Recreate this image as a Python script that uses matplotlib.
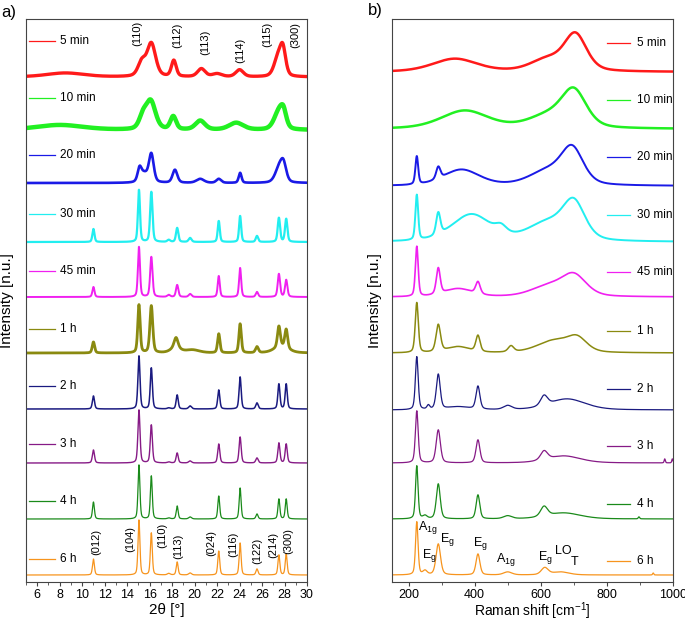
import numpy as np
import matplotlib
matplotlib.use("Agg")
import matplotlib.pyplot as plt
from matplotlib.ticker import MultipleLocator

plt.rcParams['font.family'] = ['Liberation Sans', 'DejaVu Sans']
plt.rcParams['mathtext.fontset'] = 'custom'
plt.rcParams['mathtext.rm'] = 'Liberation Sans'
plt.rcParams['mathtext.it'] = 'Liberation Sans'

# ---------------- data ----------------
series_labels = ["5 min", "10 min", "20 min", "30 min", "45 min",
                 "1 h", "2 h", "3 h", "4 h", "6 h"]
series_colors = ["#ff1a1a", "#22f022", "#1a1ae6", "#22eef0", "#f020f0",
                 "#8a8a10", "#1a1a80", "#861a86", "#1a8a1a", "#f7941d"]

# XRD peaks per series: (2theta, height, fwhm)
xrd_peaks = {
    "5 min": [(8.5, 4, 4.0), (15.3, 14, 0.8), (16.15, 33, 0.9), (18.15, 16, 0.5),
              (20.6, 8, 0.8), (22.0, 3, 1.0), (24.0, 7, 0.8), (27.4, 18, 0.8), (27.85, 26, 0.6)],
    "10 min": [(8.0, 5, 5.0), (15.4, 12, 0.8), (16.1, 28, 1.0), (18.1, 13, 0.6),
               (20.5, 9, 1.0), (23.7, 7, 1.5), (27.5, 18, 1.0), (27.9, 13, 0.6)],
    "20 min": [(15.1, 12, 0.4), (15.5, 9, 0.8), (16.15, 28, 0.5), (18.25, 13, 0.5),
               (20.5, 4, 0.8), (22.15, 4, 0.5), (24.05, 10, 0.3), (27.5, 14, 0.8), (27.9, 17, 0.6)],
    "30 min": [(11.0, 13, 0.22), (15.05, 52, 0.22), (16.15, 50, 0.25), (17.7, 2, 0.3),
               (18.45, 14, 0.25), (19.6, 4, 0.3), (22.15, 21, 0.22), (24.05, 26, 0.22),
               (25.55, 6, 0.25), (27.5, 24, 0.25), (28.15, 23, 0.25)],
    "45 min": [(11.0, 10, 0.22), (15.05, 50, 0.22), (16.15, 40, 0.25), (17.7, 2, 0.3),
               (18.45, 12, 0.25), (19.6, 3, 0.3), (22.15, 21, 0.22), (24.05, 29, 0.22),
               (25.55, 5, 0.25), (27.5, 23, 0.25), (28.15, 17, 0.25)],
    "1 h": [(11.0, 11, 0.25), (15.05, 48, 0.25), (16.15, 47, 0.3), (18.35, 10, 0.4),
            (18.3, 5, 1.0), (19.8, 3, 1.5), (22.15, 19, 0.25), (24.05, 29, 0.25),
            (25.55, 6, 0.3), (27.5, 21, 0.3), (27.7, 6, 1.5), (28.15, 19, 0.3)],
    "2 h": [(11.0, 13, 0.22), (15.05, 53, 0.22), (16.15, 41, 0.22), (17.7, 1, 0.3),
            (18.45, 14, 0.22), (19.6, 3, 0.3), (22.15, 19, 0.22), (24.05, 32, 0.22),
            (25.55, 6, 0.25), (27.5, 25, 0.22), (28.15, 25, 0.22)],
    "3 h": [(11.0, 13, 0.22), (15.05, 53, 0.22), (16.15, 38, 0.22), (17.7, 1, 0.3),
            (18.45, 10, 0.22), (19.6, 2, 0.3), (22.15, 19, 0.22), (24.05, 26, 0.22),
            (25.55, 5, 0.25), (27.5, 20, 0.22), (28.15, 19, 0.22)],
    "4 h": [(11.0, 17, 0.2), (15.05, 54, 0.2), (16.15, 43, 0.2), (17.7, 1, 0.3),
            (18.45, 13, 0.2), (19.6, 2, 0.3), (22.15, 23, 0.2), (24.05, 31, 0.2),
            (25.55, 5, 0.22), (27.5, 20, 0.2), (28.15, 20, 0.2)],
    "6 h": [(11.0, 16, 0.2), (15.05, 55, 0.2), (16.15, 42, 0.2), (17.7, 1.5, 0.3),
            (18.45, 13, 0.2), (19.6, 2, 0.3), (22.15, 24, 0.2), (24.05, 32, 0.2),
            (25.55, 6, 0.22), (27.5, 20, 0.2), (28.15, 21, 0.2)],
}

# Raman peaks per series: (shift, height, fwhm)
raman_peaks = {
    "5 min": [(340, 13, 160), (620, 12, 120), (705, 36, 80)],
    "10 min": [(370, 18, 170), (620, 12, 140), (700, 36, 90)],
    "20 min": [(225, 28, 10), (290, 12, 15), (360, 16, 130), (620, 14, 130), (695, 35, 80)],
    "30 min": [(225, 45, 10), (290, 22, 15), (390, 27, 140), (480, 7, 40), (620, 18, 140), (700, 36, 80)],
    "45 min": [(225, 50, 10), (290, 26, 14), (350, 8, 100), (410, 12, 16), (620, 10, 120), (700, 21, 90)],
    "1 h": [(225, 50, 11), (290, 27, 16), (350, 6, 80), (410, 16, 15), (510, 6, 20), (640, 12, 120), (710, 13, 70)],
    "2 h": [(225, 53, 10), (260, 4, 10), (290, 35, 14), (350, 3, 80), (410, 23, 14), (500, 4, 30), (610, 10, 25), (680, 11, 130)],
    "3 h": [(225, 52, 10), (290, 33, 15), (410, 23, 14), (610, 9, 25), (670, 7, 120), (975, 4, 4), (998, 4, 4)],
    "4 h": [(225, 53, 9), (250, 3, 15), (290, 35, 14), (410, 24, 13), (500, 3, 30), (610, 10, 25), (670, 6, 120), (897, 2, 5)],
    "6 h": [(225, 53, 9), (250, 4, 15), (290, 31, 16), (410, 21, 14), (500, 3, 30), (612, 7, 25), (660, 3, 60), (940, 2, 4)],
}

xrd_top_hkl = ["(110)", "(112)", "(113)", "(114)", "(115)", "(300)"]
xrd_top_pos = [14.88, 18.43, 20.93, 24.04, 26.44, 28.93]
xrd_bot_hkl = ["(012)", "(104)", "(110)", "(113)", "(024)", "(116)", "(122)", "(214)", "(300)"]
xrd_bot_pos = [11.23, 14.25, 17.10, 18.52, 21.46, 23.42, 25.55, 26.98, 28.31]
raman_modes = [r"A$_{1g}$", r"E$_g$", r"E$_g$", r"E$_g$", r"A$_{1g}$", r"E$_g$", "LO", "T"]
raman_mode_pos = [259, 262, 317, 417, 495, 614, 668, 701]

# ---------------- layout / style ----------------
xrd_offsets = [505, 452, 399, 340, 285, 229, 173, 119, 63, 7]
raman_offsets = [510, 453, 396, 340, 285, 229, 172, 119, 63, 7]
xrd_lw = [2.4, 3.2, 1.9, 1.6, 1.4, 2.0, 1.1, 1.0, 0.9, 0.9]
raman_lw = [1.8, 1.8, 1.4, 1.4, 1.2, 1.1, 0.9, 0.9, 0.9, 0.9]
leg_a_y = [541, 484, 427, 368, 311, 253, 196, 138, 81, 23]
leg_b_y = [539, 482, 425, 367, 310, 251, 193, 136, 78, 21]
top_lab_y = [549, 547, 540, 532, 548, 547]
bot_lab_y = [40, 43, 47, 36, 39, 38, 31, 37, 41]
mode_lab_y = [55, 26, 43, 38, 23, 25, 31, 20]


def profile(x, peaks):
    y = np.zeros_like(x)
    for c, h, w in peaks:
        g = np.exp(-4 * np.log(2) * ((x - c) / w) ** 2)
        l = 1.0 / (1.0 + 4 * ((x - c) / w) ** 2)
        y += h * (0.6 * g + 0.4 * l)
    return y


fig = plt.figure(figsize=(6.85, 6.21), dpi=100)
axa = fig.add_axes([26 / 685, 39 / 621, 281 / 685, 563 / 621])
axb = fig.add_axes([392 / 685, 39 / 621, 281 / 685, 563 / 621])

x_xrd = np.linspace(5, 30, 2501)
x_ram = np.linspace(150, 1000, 1701)

for i, lab in enumerate(series_labels):
    col = series_colors[i]
    axa.plot(x_xrd, xrd_offsets[i] + profile(x_xrd, xrd_peaks[lab]), color=col,
             lw=xrd_lw[i], solid_joinstyle='round')
    axb.plot(x_ram, raman_offsets[i] + profile(x_ram, raman_peaks[lab]), color=col,
             lw=raman_lw[i])
    axa.plot([5.27, 7.58], [leg_a_y[i], leg_a_y[i]], color=col, lw=0.9)
    axa.text(8.02, leg_a_y[i], lab, fontsize=8.5, va='center', ha='left')
    axb.plot([801, 871], [leg_b_y[i], leg_b_y[i]], color=col, lw=0.9)
    axb.text(892, leg_b_y[i], lab, fontsize=8.5, va='center', ha='left')

for t, x, y in zip(xrd_top_hkl, xrd_top_pos, top_lab_y):
    axa.text(x, y, t, rotation=90, fontsize=8, ha='center', va='center')
for t, x, y in zip(xrd_bot_hkl, xrd_bot_pos, bot_lab_y):
    axa.text(x, y, t, rotation=90, fontsize=8, ha='center', va='center')
for t, x, y in zip(raman_modes, raman_mode_pos, mode_lab_y):
    axb.text(x, y, t, fontsize=9, ha='center', va='center')

for ax in (axa, axb):
    ax.set_ylim(0, 563)
    ax.set_yticks([])
    for s in ax.spines.values():
        s.set_color('#444444')
        s.set_linewidth(0.8)
    ax.tick_params(axis='x', which='major', direction='out', length=3, width=0.8,
                   labelsize=9, pad=2, color='#444444', top=False)
    ax.tick_params(axis='x', which='minor', direction='out', length=2, width=0.6,
                   color='#444444', top=False)

axa.set_xlim(5, 30)
axa.xaxis.set_major_locator(MultipleLocator(2))
axa.xaxis.set_minor_locator(MultipleLocator(1))
axa.set_xticks(np.arange(6, 31, 2))
axb.set_xlim(150, 1000)
axb.xaxis.set_major_locator(MultipleLocator(200))
axb.xaxis.set_minor_locator(MultipleLocator(100))

axa.set_xlabel("2θ [°]", fontsize=11)
axb.set_xlabel(r"Raman shift [cm$^{-1}$]", fontsize=10)
axa.set_ylabel("Intensity [n.u.]", fontsize=11)
axb.set_ylabel("Intensity [n.u.]", fontsize=11)
axa.yaxis.set_label_coords(-0.043, 0.5)
axb.yaxis.set_label_coords(-0.036, 0.5)
axa.xaxis.set_label_coords(0.5, -0.038)
axb.xaxis.set_label_coords(0.5, -0.032)

fig.text(9 / 685, 1 - 13 / 621, "a)", fontsize=12, ha='center', va='center')
fig.text(375 / 685, 1 - 11 / 621, "b)", fontsize=12, ha='center', va='center')

fig.savefig("out.png", dpi=100)
